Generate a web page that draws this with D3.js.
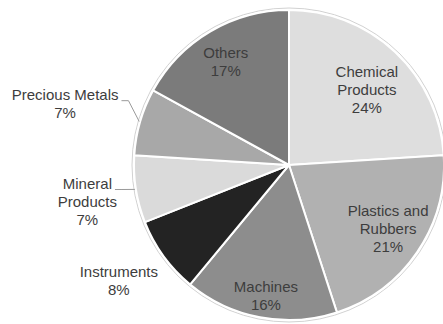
<!DOCTYPE html>
<html>
<head>
<meta charset="utf-8">
<script src="https://cdn.jsdelivr.net/npm/d3@7"></script>
<style>
  html, body { margin: 0; padding: 0; background: #fff; }
  svg { display: block; }
  text { font-family: "Liberation Sans", Arial, Helvetica, sans-serif; }
</style>
</head>
<body>
<svg id="chart" width="443" height="324"></svg>
<script>
// Export shares by product group (percent)
const categories = ["Chemical Products", "Plastics and Rubbers", "Machines", "Instruments",
                    "Mineral Products", "Precious Metals", "Others"];
const shares = [24, 21, 16, 8, 7, 7, 17];
const labelLines = [["Chemical", "Products"], ["Plastics and", "Rubbers"], ["Machines"],
                    ["Instruments"], ["Mineral", "Products"], ["Precious Metals"], ["Others"]];
const fills = ["#dedede", "#b1b1b1", "#8d8d8d", "#232323", "#dadada", "#a8a8a8", "#7b7b7b"];

// Label placement: [angle in degrees clockwise from 12 o'clock, distance from centre]
const labelPolar = [[46.1, 108], [122.9, 118], [190, 133], [235.7, 206],
                    [259.6, 205], [285.2, 232], [328.5, 121]];
const outside = [false, false, false, true, true, true, false];
const withLeader = [false, false, false, false, true, true, false];

const W = 443, H = 324;
const cx = 289, cy = 165, R = 155;
const fontSize = 15, lineH = 18;

const svg = d3.select("#chart");
const g = svg.append("g").attr("transform", `translate(${cx},${cy})`);

const data = categories.map((c, i) => ({ name: c, value: shares[i], i }));
const pie = d3.pie().value(d => d.value).sort(null);
const arcs = pie(data);
const arc = d3.arc().innerRadius(0).outerRadius(R);

// thin outer rim
g.append("circle").attr("r", R + 2).attr("fill", "none")
  .attr("stroke", "#d2d2d2").attr("stroke-width", 1);

g.selectAll("path.slice").data(arcs).enter().append("path")
  .attr("class", "slice")
  .attr("d", arc)
  .attr("fill", d => fills[d.data.i])
  .attr("stroke", "#fff")
  .attr("stroke-width", 2)
  .attr("stroke-linejoin", "round");

const polar = (deg, r) => {
  const a = deg * Math.PI / 180;
  return [r * Math.sin(a), -r * Math.cos(a)];
};

arcs.forEach(d => {
  const i = d.data.i;
  const lines = labelLines[i].concat([d3.format(".0f")(d.data.value) + "%"]);
  const [lx, ly] = polar(labelPolar[i][0], labelPolar[i][1]);
  const top = ly - (lines.length - 1) * lineH / 2;
  const t = g.append("text")
    .attr("text-anchor", "middle")
    .attr("font-size", fontSize)
    .attr("fill", "#3d3d3d");
  lines.forEach((s, k) => {
    t.append("tspan").attr("x", lx).attr("y", top + k * lineH)
      .attr("dy", "0.35em").text(s);
  });

  if (withLeader[i]) {
    const w = t.select("tspan").node().getComputedTextLength();
    const ex = lx + w / 2 + 3;
    const ey = top + 5.5;
    const mid = (d.startAngle + d.endAngle) / 2 * 180 / Math.PI;
    const [ax, ay] = polar(mid, R + 1);
    g.append("polyline")
      .attr("points", [[ex, ey], [ex + 7, ey], [ax, ay]].map(p => p.join(",")).join(" "))
      .attr("fill", "none")
      .attr("stroke", "#9a9a9a")
      .attr("stroke-width", 1);
  }
});
</script>
</body>
</html>
